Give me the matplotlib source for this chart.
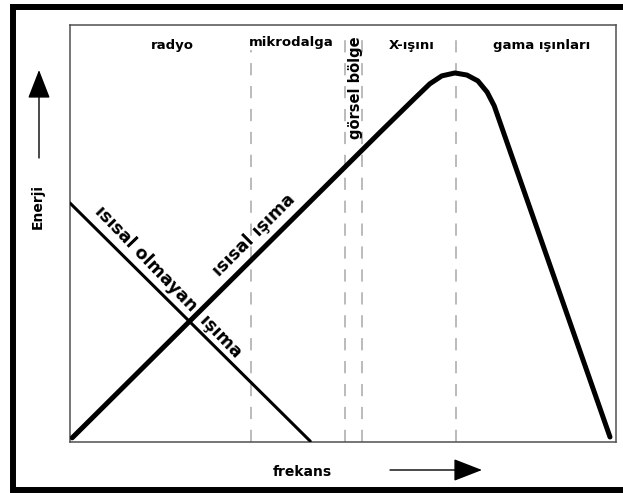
import matplotlib
matplotlib.use("Agg")
import matplotlib.pyplot as plt
from matplotlib.lines import Line2D

# frequency (x) and energy (y) in arbitrary 0-100 units
thermal_x = [0.4, 56.8, 63.2, 65.9, 68.1, 70.5, 72.7, 74.7, 76.4, 77.7, 98.9]
thermal_y = [1.0, 74.3, 82.5, 85.9, 87.8, 88.5, 88.0, 86.6, 83.9, 80.6, 1.2]
nonthermal_x = [0.0, 44.0]
nonthermal_y = [57.3, 0.2]

# region borders and their names
dividers = [33.2, 50.4, 53.5, 70.7]
regions = ["radyo", "mikrodalga", "X-ışını", "gama ışınları"]
region_x = [18.7, 40.5, 62.5, 86.4]
region_y = [95.2, 95.7, 95.2, 95.2]

W, H = 623, 493
fig = plt.figure(figsize=(W / 100, H / 100), dpi=100)
ax = fig.add_axes([70 / W, 51 / H, 546 / W, 417 / H])
ax.set_xlim(0, 100)
ax.set_ylim(0, 100)
ax.set_xticks([])
ax.set_yticks([])
for s in ax.spines.values():
    s.set_color("#505050")
    s.set_linewidth(1.1)

# dashed region borders
for d in dividers:
    ax.plot([d, d], [0, 97], color="#a8a8a8", lw=1.1, ls=(0, (8, 7)), zorder=1)

# curves
ax.plot(thermal_x, thermal_y, color="black", lw=3.6, solid_capstyle="round", zorder=3)
ax.plot(nonthermal_x, nonthermal_y, color="black", lw=2.2, solid_capstyle="round", zorder=3)

# region names
for name, x, y in zip(regions, region_x, region_y):
    ax.text(x, y, name, ha="center", va="center", fontsize=9.5, fontweight="bold", zorder=4,
            bbox=dict(facecolor="white", edgecolor="none", pad=0.5))
ax.text(52.2, 84.9, "görsel bölge", rotation=90, ha="center", va="center",
        fontsize=10.5, fontweight="bold", zorder=4)

# curve labels
ax.text(33.7, 49.6, "ısısal ışıma", rotation=45, ha="center", va="center",
        rotation_mode="anchor", fontsize=12.5, fontweight="bold", zorder=4)
ax.text(17.9, 38.4, "ısısal olmayan  ışıma", rotation=-46, ha="center", va="center",
        rotation_mode="anchor", fontsize=12.5, fontweight="bold", zorder=4)

# axis names with arrows (figure pixels)
fig.text(38 / W, 1 - 206 / H, "Enerji", rotation=90, ha="center", va="center",
         fontsize=10, fontweight="bold")
fig.text(302 / W, 1 - 472 / H, "frekans", ha="center", va="center",
         fontsize=10, fontweight="bold")
arrow = dict(arrowstyle="-|>,head_length=0.9,head_width=0.35", color="black",
             lw=1.0, mutation_scale=20, shrinkA=0, shrinkB=0)
ax.annotate("", xy=(39, H - 70), xytext=(39, H - 158), xycoords="figure pixels",
            textcoords="figure pixels", arrowprops=arrow)
ax.annotate("", xy=(482, H - 470), xytext=(390, H - 470), xycoords="figure pixels",
            textcoords="figure pixels", arrowprops=arrow)

# outer frame (left, top, bottom; the right side runs off the picture)
fw = 4.3
left, top, bottom = 13 / W, 1 - 6.5 / H, 1 - 490 / H
frame = Line2D([1.05, left, left, 1.05], [top, top, bottom, bottom],
               transform=fig.transFigure, color="black", lw=fw, solid_joinstyle="miter")
fig.add_artist(frame)

fig.savefig("out.png", dpi=100)
